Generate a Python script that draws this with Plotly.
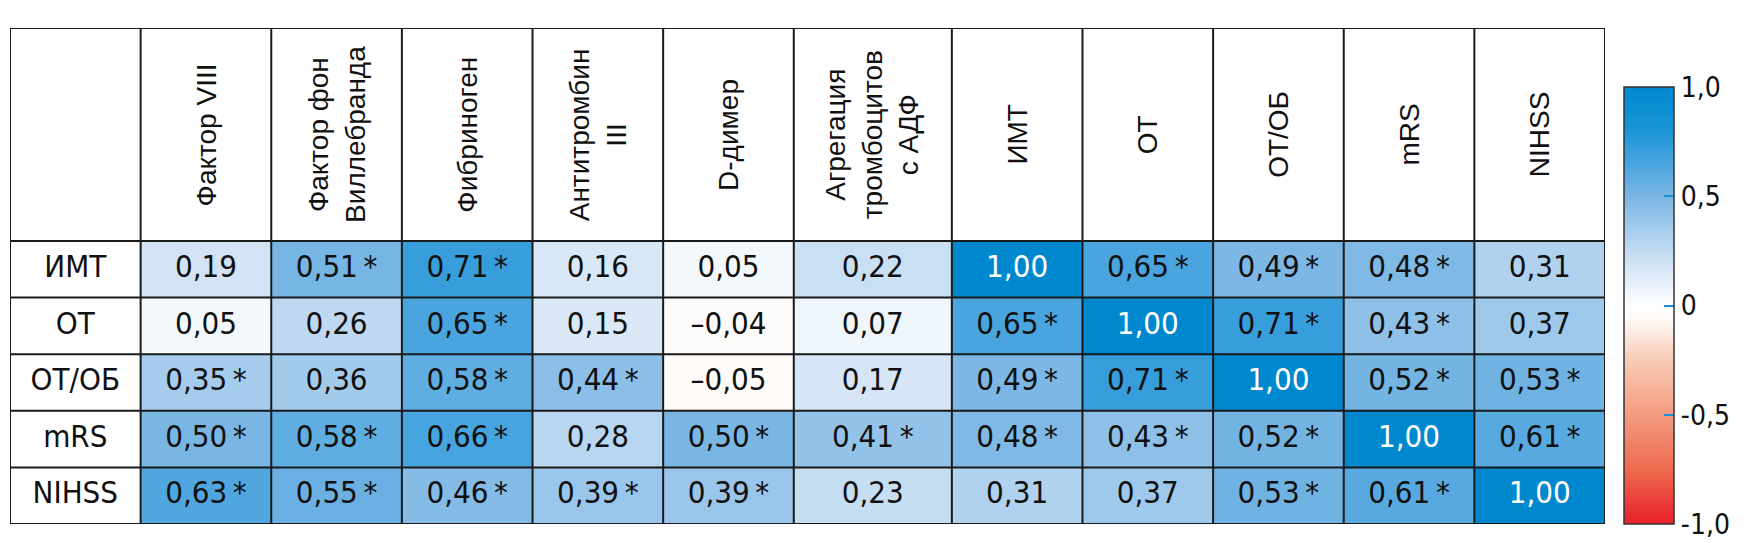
import numpy as np
import plotly.graph_objects as go

# ---------------- data ----------------
columns = [
    "Фактор VIII",
    "Фактор фон<br>Виллебранда",
    "Фибриноген",
    "Антитромбин<br>III",
    "D-димер",
    "Агрегация<br>тромбоцитов<br>с АДФ",
    "ИМТ",
    "ОТ",
    "ОТ/ОБ",
    "mRS",
    "NIHSS",
]
rows = ["ИМТ", "ОТ", "ОТ/ОБ", "mRS", "NIHSS"]

r_imt   = [0.19, 0.51, 0.71, 0.16, 0.05, 0.22, 1.00, 0.65, 0.49, 0.48, 0.31]
r_ot    = [0.05, 0.26, 0.65, 0.15, -0.04, 0.07, 0.65, 1.00, 0.71, 0.43, 0.37]
r_otob  = [0.35, 0.36, 0.58, 0.44, -0.05, 0.17, 0.49, 0.71, 1.00, 0.52, 0.53]
r_mrs   = [0.50, 0.58, 0.66, 0.28, 0.50, 0.41, 0.48, 0.43, 0.52, 1.00, 0.61]
r_nihss = [0.63, 0.55, 0.46, 0.39, 0.39, 0.23, 0.31, 0.37, 0.53, 0.61, 1.00]

s_imt   = [0, 1, 1, 0, 0, 0, 0, 1, 1, 1, 0]
s_ot    = [0, 0, 1, 0, 0, 0, 1, 0, 1, 1, 0]
s_otob  = [1, 0, 1, 1, 0, 0, 1, 1, 0, 1, 1]
s_mrs   = [1, 1, 1, 0, 1, 1, 1, 1, 1, 0, 1]
s_nihss = [1, 1, 1, 1, 1, 0, 0, 0, 1, 1, 0]

cb_tickvals = [-1, -0.5, 0, 0.5, 1]
cb_ticktext = ["-1,0", "-0,5", "0", "0,5", "1,0"]

# ---------------- styling / layout constants ----------------
W, H = 1755, 543
col_weights = [1, 1, 1, 1, 1, 1.21, 1, 1, 1, 1, 1]   # relative column widths
label_weight = 1.0
header_rows = 3.76                                   # header height in row units

TABLE_LEFT, TABLE_RIGHT = 2, 1597
TABLE_TOP, TABLE_BOTTOM = 20, 516

NARROW = "DejaVu Sans Condensed, Liberation Sans Narrow, sans-serif"
REGULAR = "Liberation Sans, Arial, sans-serif"

colorscale = [
    [0.0, "#e8202a"],
    [0.125, "#ee6a50"],
    [0.25, "#f39c80"],
    [0.375, "#f9cbb6"],
    [0.47, "#fefaf8"],
    [0.5, "#ffffff"],
    [0.6, "#cfe2f4"],
    [0.75, "#7ab6e4"],
    [0.85, "#3a9fdc"],
    [0.9, "#1a95d6"],
    [1.0, "#0088ce"],
]

Z = np.array([r_imt, r_ot, r_otob, r_mrs, r_nihss])
S = np.array([s_imt, s_ot, s_otob, s_mrs, s_nihss])

# x geometry in column units
x_edges = np.concatenate([[0.0, label_weight], label_weight + np.cumsum(col_weights)])
data_edges = x_edges[1:]
x_centers = (data_edges[:-1] + data_edges[1:]) / 2
x_total = x_edges[-1]

y_edges = np.arange(len(rows) + 1) - 0.5
y_top = -0.5 - header_rows


def fmt(v, s):
    t = f"{abs(v):.2f}".replace(".", ",")
    if v < 0:
        t = "\u2013" + t
    if s:
        t += "\u2009*"
    return t


fig = go.Figure()

fig.add_trace(go.Heatmap(
    z=Z,
    x=data_edges,
    y=y_edges,
    zmin=-1, zmax=1,
    colorscale=colorscale,
    hoverinfo="skip",
    colorbar=dict(
        x=1616 / W, xanchor="left", xpad=0,
        y=1 - (79 + 516) / 2 / H, yanchor="middle", ypad=0,
        lenmode="pixels", len=437,
        thickness=50,
        outlinecolor="#333333", outlinewidth=1.5,
        tickvals=cb_tickvals, ticktext=cb_ticktext,
        ticks="inside", ticklen=10, tickwidth=2, tickcolor="#1a8fd8",
        tickfont=dict(family=NARROW, size=28, color="#111111"),
    ),
))

# cell values
xs, ys, texts, colors = [], [], [], []
for i in range(len(rows)):
    for j in range(len(columns)):
        xs.append(x_centers[j])
        ys.append(i)
        texts.append(fmt(Z[i, j], S[i, j]))
        colors.append("#ffffff" if Z[i, j] >= 0.995 else "#111111")

fig.add_trace(go.Scatter(
    x=xs, y=ys, mode="text", text=texts,
    textfont=dict(family=NARROW, size=31, color=colors),
    hoverinfo="skip", showlegend=False,
))

# row labels
fig.add_trace(go.Scatter(
    x=[label_weight / 2] * len(rows), y=list(range(len(rows))), mode="text",
    text=rows, textfont=dict(family=NARROW, size=31, color="#111111"),
    hoverinfo="skip", showlegend=False,
))

# column headers (rotated)
for j, c in enumerate(columns):
    fig.add_annotation(
        x=x_centers[j], y=(y_top + -0.5) / 2, xref="x", yref="y",
        text=c, textangle=-90, showarrow=False,
        font=dict(family=REGULAR, size=28, color="#111111"),
        align="center",
    )

# grid lines
line = dict(color="#1a1a1a", width=2)
for xe in x_edges:
    fig.add_shape(type="line", x0=xe, x1=xe, y0=y_top, y1=y_edges[-1],
                  xref="x", yref="y", line=line, layer="above")
for ye in [y_top] + list(y_edges):
    fig.add_shape(type="line", x0=0, x1=x_total, y0=ye, y1=ye,
                  xref="x", yref="y", line=line, layer="above")

fig.update_xaxes(range=[0, x_total], domain=[TABLE_LEFT / W, TABLE_RIGHT / W],
                 visible=False, fixedrange=True)
fig.update_yaxes(range=[y_edges[-1], y_top],
                 domain=[1 - TABLE_BOTTOM / H, 1 - TABLE_TOP / H],
                 visible=False, fixedrange=True)

fig.update_layout(
    width=W, height=H,
    margin=dict(l=0, r=0, t=0, b=0),
    paper_bgcolor="white", plot_bgcolor="white",
    showlegend=False,
)

fig.write_html("out.html")
